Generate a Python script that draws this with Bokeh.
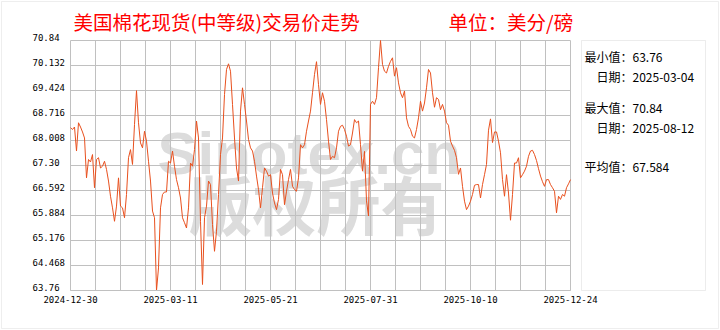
from bokeh.plotting import figure
from bokeh.models import Range1d, FixedTicker, Label, LabelSet, BoxAnnotation, ColumnDataSource
from bokeh.core.properties import value
from bokeh.embed import file_html
from bokeh.resources import INLINE

# ---------------- data ----------------
prices = [
    68.37, 68.32, 68.39, 67.71, 68.51, 68.39, 68.25, 68.08, 66.95, 67.47,
    67.40, 67.61, 66.67, 67.47, 67.52, 67.23, 67.28, 67.42, 67.19, 66.86,
    66.43, 66.10, 65.72, 66.15, 66.95, 66.15, 66.10, 65.82, 66.48, 67.52,
    67.75, 67.33, 68.46, 69.42, 68.51, 67.94, 67.80, 68.27, 67.99, 67.42,
    66.86, 66.01, 65.82, 63.76, 64.40, 66.10, 66.48, 66.55, 66.55, 67.42,
    67.37, 67.71, 67.28, 66.90, 66.67, 66.38, 65.82, 65.68, 65.53, 66.10,
    67.37, 67.28, 67.75, 68.56, 68.08, 65.72, 63.93, 65.82, 66.15, 66.86,
    66.76, 65.63, 64.87, 65.44, 66.48, 67.61, 68.08, 69.31, 70.02, 70.18,
    69.97, 69.03, 68.08, 67.23, 66.86,
    68.84, 69.50, 69.03, 68.56, 68.04, 67.80, 67.71, 67.42, 67.00, 66.62,
    66.10, 66.67, 67.23, 67.14, 67.00, 67.04, 66.52, 66.24, 66.05, 66.34,
    67.19, 67.04, 66.19, 66.57, 66.90, 67.19, 66.71, 66.62, 66.57, 66.95,
    67.89, 67.80, 67.89, 68.27, 68.56, 68.84, 69.36, 69.88, 70.24, 69.59,
    69.03, 69.36, 69.12, 68.60, 67.99, 67.47, 67.56, 67.52, 67.80, 68.27,
    68.41, 68.44, 68.32, 68.13, 67.85, 67.89, 68.22, 68.60, 68.51, 68.56,
    67.89, 67.14, 67.70, 66.30, 65.87, 69.03, 69.12, 69.03, 69.22, 70.07,
    70.84, 70.16, 69.97, 69.92, 70.11, 70.25, 70.35, 69.83, 70.07, 69.64,
    69.36, 69.22, 69.41,
    68.65, 68.41, 68.32, 68.13, 68.08, 68.32, 68.65, 69.12, 68.84, 69.07,
    69.50, 70.02, 69.92, 69.36, 68.95, 69.22, 69.17, 68.88, 69.03, 68.84,
    68.51, 68.44, 67.99, 67.85, 67.73, 67.52, 67.05, 67.23, 66.71, 66.29,
    66.05, 66.15, 66.29, 66.48, 66.74, 66.76, 66.76, 66.38, 66.76, 67.04,
    67.33, 68.30, 68.62, 67.95, 68.25, 68.25, 67.99, 67.66, 66.90, 66.43,
    67.04, 66.52, 65.75, 66.48, 67.37, 67.37, 67.52, 66.95, 67.04, 67.14,
    67.28, 67.56, 67.71, 67.73, 67.61, 67.44, 67.21, 67.00, 66.84, 66.71,
    66.90, 66.90, 66.76, 66.67, 66.57, 65.96, 66.43, 66.34, 66.48, 66.43,
    66.67, 66.78, 66.90,
]
day_index = list(range(len(prices)))

y_ticks = [63.76, 64.468, 65.176, 65.884, 66.592, 67.30, 68.008, 68.716, 69.424, 70.132, 70.84]
y_tick_labels = ["63.76", "64.468", "65.176", "65.884", "66.592", "67.30",
                 "68.008", "68.716", "69.424", "70.132", "70.84"]
x_tick_pos = [0, 50, 100, 150, 200, 250]
x_tick_labels = ["2024-12-30", "2025-03-11", "2025-05-21", "2025-07-31", "2025-10-10", "2025-12-24"]

title_text = "美国棉花现货(中等级)交易价走势"
unit_text = "单位：美分/磅"
min_value = "63.76"
min_date = "2025-03-04"
max_value = "70.84"
max_date = "2025-08-12"
avg_value = "67.584"

# ---------------- geometry (pixels of the 720x330 canvas) ----------------
W, H = 720, 330
X0, X1 = 0, 250          # data x at plot-area left/right
Y0, Y1 = 63.76, 70.84    # data y at plot-area bottom/top
FL, FR, FT, FB = 70, 570, 40, 290


def dx(px):
    return X0 + (px - FL) * (X1 - X0) / (FR - FL)


def dy(py):
    return Y1 - (py - FT) * (Y1 - Y0) / (FB - FT)


GRID = "#c0c0c0"
LINE = "#e8501e"
CJK = "Noto Sans CJK SC"
MONO = "DejaVu Sans Mono"

# the frame covers the whole canvas so that texts outside the plot area are not clipped
p = figure(width=W, height=H, x_range=Range1d(dx(0), dx(W)), y_range=Range1d(dy(H), dy(0)),
           output_backend="svg", toolbar_location=None, title=None,
           min_border=0, background_fill_color="white", border_fill_color="white")
p.outline_line_color = None
p.xgrid.visible = False
p.ygrid.visible = False
p.yaxis.visible = False

# x axis fixed at the bottom of the plot area
xa = p.xaxis[0]
xa.fixed_location = Y0
xa.bounds = (X0, X1)
xa.ticker = FixedTicker(ticks=x_tick_pos, minor_ticks=[])
xa.major_label_overrides = dict(zip(x_tick_pos, x_tick_labels))
xa.axis_line_color = GRID
xa.major_tick_line_color = None
xa.minor_tick_line_color = None
xa.major_tick_out = 0
xa.major_tick_in = 0
xa.major_label_standoff = 5
xa.major_label_text_font = MONO
xa.major_label_text_font_size = "9px"
xa.major_label_text_color = "#000000"

# watermark (lowest level)
p.add_layout(Label(x=dx(157), y=dy(153), text="Sinotex.cn", text_font="Liberation Sans",
                   text_font_style="bold", text_font_size="60px", text_color="#dcdcdc",
                   text_align="left", text_baseline="alphabetic", level="image"))
p.add_layout(Label(x=dx(188), y=dy(201), text="版权所有", text_font=CJK,
                   text_font_style="bold", text_font_size="64px", text_color="#dcdcdc",
                   text_align="left", text_baseline="middle", level="image"))

# grid lines of the plot area
vx = [X0 + k * (X1 - X0) / 20 for k in range(21)]
p.segment(x0=vx, y0=[Y0] * len(vx), x1=vx, y1=[Y1] * len(vx), line_color=GRID, line_width=1)
p.segment(x0=[X0] * len(y_ticks), y0=y_ticks, x1=[X1] * len(y_ticks), y1=y_ticks,
          line_color=GRID, line_width=1)

# y tick labels (left aligned like the reference)
ysrc = ColumnDataSource(dict(y=y_ticks, text=y_tick_labels))
p.add_layout(LabelSet(x=dx(32), y="y", text="text", source=ysrc, y_offset=3,
                      text_font=value(MONO), text_font_size=value("9px"), text_color="#000000",
                      text_align="left", text_baseline="middle"))

# price line
p.line(day_index, prices, line_color=LINE, line_width=1)

# title and unit
p.add_layout(Label(x=dx(73), y=dy(21), text=title_text, text_font=CJK, text_font_size="19.5px",
                   text_color="#ff0000", text_align="left", text_baseline="middle"))
p.add_layout(Label(x=dx(448), y=dy(21), text=unit_text, text_font=CJK, text_font_size="19.5px",
                   text_color="#ff0000", text_align="left", text_baseline="middle"))

# right info box and outer frame
p.add_layout(BoxAnnotation(left=dx(581), right=dx(705), top=dy(40), bottom=dy(290),
                           fill_color=None, fill_alpha=0, line_color=GRID, line_width=1))
p.add_layout(BoxAnnotation(left=dx(1), right=dx(718), top=dy(1), bottom=dy(328),
                           fill_color=None, fill_alpha=0, line_color="#c8c8c8", line_width=1))

info = [
    (584, 56, "最小值：" + min_value),
    (596, 76, "日期：" + min_date),
    (584, 107, "最大值：" + max_value),
    (596, 127, "日期：" + max_date),
    (584, 166, "平均值：" + avg_value),
]
for px, py, txt in info:
    p.add_layout(Label(x=dx(px), y=dy(py), text=txt, text_font=CJK, text_font_size="12px",
                       text_color="#000000", text_align="left", text_baseline="middle"))

open("out.html", "w").write(file_html(p, INLINE))
